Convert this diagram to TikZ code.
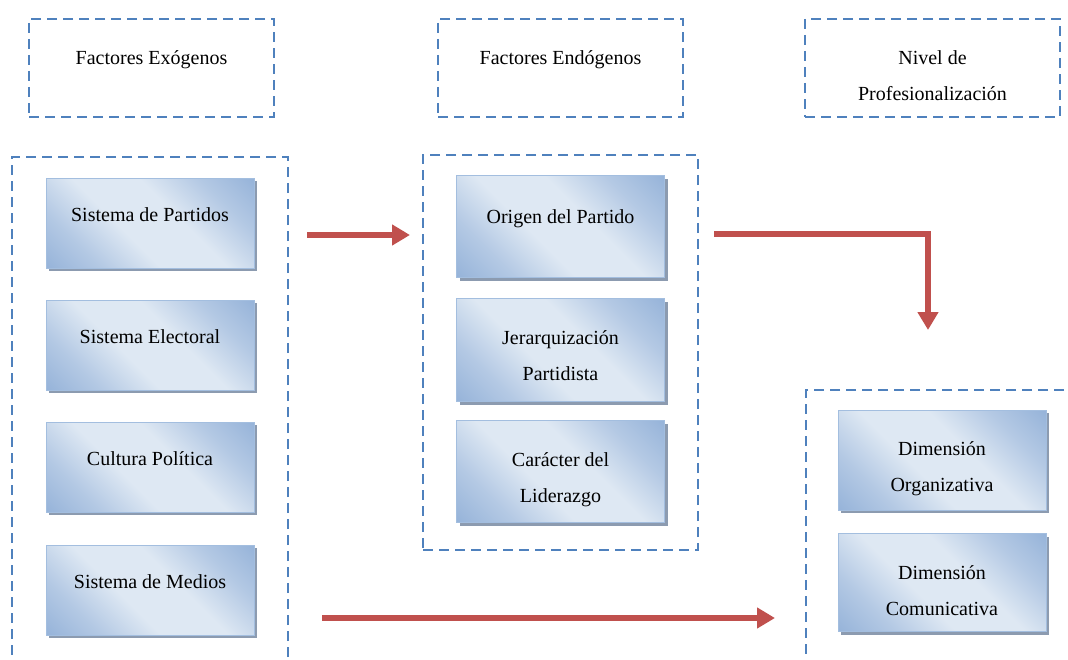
\documentclass[tikz,border=0pt]{standalone}
\usepackage{fontspec}
\setmainfont{Liberation Serif}
\usetikzlibrary{arrows.meta, positioning, shadows}

\definecolor{dashblue}{HTML}{4F81BD}
\definecolor{arrowred}{HTML}{C0504D}
\definecolor{boxdark}{HTML}{90AFD7}
\definecolor{boxmid}{HTML}{B4C9E4}
\definecolor{boxlight}{HTML}{DEE8F3}
\definecolor{boxedge}{HTML}{A3BEDF}
\definecolor{shadowgray}{HTML}{8C9BB0}
\pgfdeclarehorizontalshading{boxshade}{100bp}{color(0bp)=(boxdark); color(12bp)=(boxdark); color(28bp)=(boxmid); color(42bp)=(boxlight); color(58bp)=(boxlight); color(72bp)=(boxmid); color(88bp)=(boxdark); color(100bp)=(boxdark)}
% invisible strut that pushes a two-line label down
\newcommand{\lift}[1]{\rule{0pt}{#1}}

\begin{document}
\begin{tikzpicture}[
    x=0.75pt, y=-0.75pt,
    frame/.style={draw=dashblue, line width=2.2pt, dash pattern=on 7.5pt off 4.5pt},
    head/.style={frame, minimum width=183.75pt, minimum height=73.5pt, align=center},
    factor/.style={draw=boxedge, line width=0.6pt, shading=boxshade, shading angle=45,
        drop shadow={shadow xshift=2.5pt, shadow yshift=-2.5pt, opacity=1, fill=shadowgray},
        minimum width=156pt, minimum height=67.5pt, align=center},
    oneline/.style={text depth=#1},
    arr/.style={-{Triangle[length=13.5pt, width=15pt]}, line width=4.5pt, draw=arrowred, line join=miter},
    font=\fontsize{15}{27}\selectfont
]
\useasboundingbox (0,0) rectangle (1068,660);
\clip (0,0) rectangle (1068,660);

% ---- column headings ----
\node[head, oneline=15.3pt] (exo)  at (151.5, 68) {Factores Exógenos};
\node[head, oneline=15.3pt] (endo) at (560.5, 68) {Factores Endógenos};
\node[head, minimum width=191.25pt] (nivel) at (932.5, 68) {\lift{22.5pt}Nivel de\\Profesionalización};

% ---- dashed containers ----
\node[frame, minimum width=207pt, minimum height=408pt]       (exobox)   at (150, 429) {};
\node[frame, minimum width=206.25pt, minimum height=296.25pt] (endobox)  at (560.5, 352.5) {};
\node[frame, minimum width=243pt, minimum height=247.5pt]     (nivelbox) at (968, 555) {};

% ---- exogenous factors ----
\node[factor, oneline=12.3pt] (partidos)  at (150, 223) {Sistema de Partidos};
\node[factor, oneline=12.3pt] (electoral) at (150, 345) {Sistema Electoral};
\node[factor, oneline=12.3pt] (cultura)   at (150, 467) {Cultura Política};
\node[factor, oneline=12.3pt] (medios)    at (150, 590) {Sistema de Medios};

% ---- endogenous factors ----
\node[factor, oneline=15.3pt, minimum height=76pt] (origen)    at (560.5, 226.5) {Origen del Partido};
\node[factor, minimum height=77pt] (jerarquia) at (560.5, 350)   {\lift{19pt}Jerarquización\\Partidista};
\node[factor, minimum height=76pt] (liderazgo) at (560.5, 471.5) {\lift{22.5pt}Carácter del\\Liderazgo};

% ---- dimensions ----
\node[factor, minimum height=75pt] (organiza) at (942, 460)   {\lift{24pt}Dimensión\\Organizativa};
\node[factor, minimum height=74pt] (comunica) at (942, 582.5) {\lift{23pt}Dimensión\\Comunicativa};

% ---- arrows ----
\coordinate (a1s) at (307, 235);
\coordinate (a1e) at (410, 235);
\coordinate (a2s) at (714, 234);
\coordinate (a2k) at (928, 234);
\coordinate (a2e) at (928, 330);
\coordinate (a3s) at (322, 618);
\coordinate (a3e) at (775, 618);

\draw[arr] (a1s) -- (a1e);
\draw[arr] (a2s) -- (a2k) -- (a2e);
\draw[arr] (a3s) -- (a3e);

\end{tikzpicture}
\end{document}
